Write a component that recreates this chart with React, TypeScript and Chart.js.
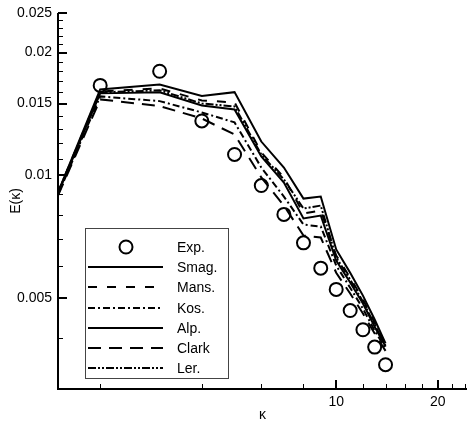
import React, { useEffect, useRef } from 'react';
import { Chart, registerables } from 'chart.js';

Chart.register(...registerables);

// ---- data ----
const KAPPA_EXP = [2, 3, 4, 5, 6, 7, 8, 9, 10, 11, 12, 13, 14];
const EXP = [0.01662, 0.0180, 0.0136, 0.01126, 0.00945, 0.00803, 0.00684, 0.00593, 0.00526, 0.00467, 0.00419, 0.0038, 0.00344];

const KAPPA_LES = [1.5, 2, 3, 4, 5, 6, 7, 8, 9, 10, 11, 12, 13, 14];
const SMAG = [0.00909, 0.01625, 0.01671, 0.01565, 0.016, 0.01211, 0.01046, 0.00878, 0.00888, 0.00659, 0.00578, 0.00508, 0.00444, 0.00388];
const MANS = [0.00909, 0.01607, 0.01634, 0.01527, 0.0151, 0.01139, 0.00989, 0.00807, 0.00821, 0.00637, 0.00562, 0.00497, 0.00436, 0.00385];
const KOS = [0.00898, 0.01562, 0.01521, 0.01427, 0.01349, 0.01046, 0.00888, 0.00758, 0.0075, 0.00602, 0.00531, 0.00472, 0.00417, 0.00377];
const ALP = [0.00904, 0.01589, 0.01598, 0.01484, 0.01451, 0.01113, 0.00961, 0.00785, 0.00798, 0.00619, 0.00547, 0.00486, 0.00426, 0.00381];
const CLARK = [0.00893, 0.01536, 0.01479, 0.01379, 0.0126, 0.00989, 0.00844, 0.00713, 0.00705, 0.00578, 0.00514, 0.00459, 0.0041, 0.00372];
const LER = [0.00909, 0.01598, 0.01616, 0.01501, 0.01476, 0.01126, 0.00978, 0.0083, 0.00844, 0.0063, 0.00556, 0.00491, 0.00431, 0.00383];

const X_MIN = 1.5;
const X_MAX = 24.4;
const Y_MIN = 0.003;
const Y_MAX = 0.025;
const X_TICKS = [2, 4, 6, 8, 10, 12, 14, 16, 18, 20, 22, 24];
const X_LABELS = [10, 20];
const Y_TICKS = [0.004, 0.005, 0.006, 0.007, 0.008, 0.009, 0.01, 0.011, 0.012, 0.013, 0.014, 0.015, 0.016, 0.017, 0.018, 0.019, 0.02, 0.021, 0.022, 0.023, 0.024, 0.025];
const Y_LABELS = [0.005, 0.01, 0.015, 0.02, 0.025];

const FONT = "'Liberation Sans', Arial, Helvetica, sans-serif";

const near = (list: number[], v: number) => list.some((l) => Math.abs(l - v) < 1e-9);
const pts = (xs: number[], ys: number[]) => xs.map((x, i) => ({ x, y: ys[i] }));

const innerTicks = {
  id: 'innerTicks',
  afterDraw(chart: any) {
    const { ctx, chartArea, scales } = chart;
    ctx.save();
    ctx.strokeStyle = '#000';
    ctx.lineWidth = 2;
    ctx.beginPath();
    ctx.moveTo(chartArea.left, chartArea.top);
    ctx.lineTo(chartArea.left, chartArea.bottom);
    ctx.lineTo(chartArea.right, chartArea.bottom);
    ctx.stroke();
    const xs = scales.x;
    for (const t of xs.ticks) {
      const major = near(X_LABELS, t.value);
      const px = Math.round(xs.getPixelForValue(t.value));
      ctx.lineWidth = major ? 2 : 1;
      ctx.beginPath();
      ctx.moveTo(px + (major ? 0 : 0.5), chartArea.bottom);
      ctx.lineTo(px + (major ? 0 : 0.5), chartArea.bottom - (major ? 9 : 5));
      ctx.stroke();
    }
    const ys = scales.y;
    for (const t of ys.ticks) {
      const major = near(Y_LABELS, t.value);
      const py = Math.round(ys.getPixelForValue(t.value));
      ctx.lineWidth = major ? 2 : 1;
      ctx.beginPath();
      ctx.moveTo(chartArea.left, py + (major ? 0 : 0.5));
      ctx.lineTo(chartArea.left + (major ? 9 : 5), py + (major ? 0 : 0.5));
      ctx.stroke();
    }
    ctx.restore();
  },
};

const legendBox = {
  id: 'legendBox',
  afterDraw(chart: any) {
    const { ctx } = chart;
    const x0 = 85, y0 = 228, w = 143, h = 150;
    ctx.save();
    ctx.fillStyle = '#fff';
    ctx.fillRect(x0, y0, w, h);
    ctx.strokeStyle = '#444';
    ctx.lineWidth = 1;
    ctx.strokeRect(x0 + 0.5, y0 + 0.5, w, h);
    ctx.font = `14px ${FONT}`;
    ctx.textBaseline = 'middle';
    ctx.textAlign = 'left';
    chart.data.datasets.forEach((ds: any, i: number) => {
      const cy = Math.round(y0 + 18.7 + i * 20.27);
      ctx.strokeStyle = '#000';
      if (ds.showLine === false) {
        ctx.setLineDash([]);
        ctx.lineWidth = 2;
        ctx.beginPath();
        ctx.arc(126, cy, 6.5, 0, Math.PI * 2);
        ctx.stroke();
      } else {
        ctx.setLineDash(ds.borderDash || []);
        ctx.lineWidth = ds.borderWidth;
        ctx.beginPath();
        ctx.moveTo(88, cy);
        ctx.lineTo(163, cy);
        ctx.stroke();
      }
      ctx.setLineDash([]);
      ctx.fillStyle = '#000';
      ctx.fillText(ds.label, 177, cy + 1);
    });
    ctx.restore();
  },
};

const lineDs = (label: string, ys: number[], dash: number[]) => ({
  label,
  data: pts(KAPPA_LES, ys),
  borderColor: '#000',
  backgroundColor: '#000',
  borderWidth: 2,
  borderDash: dash,
  pointRadius: 0,
  fill: false,
  tension: 0,
});

export default function App() {
  const ref = useRef<HTMLCanvasElement | null>(null);
  useEffect(() => {
    if (!ref.current) return;
    const chart = new Chart(ref.current, {
      type: 'line',
      data: {
        datasets: [
          {
            label: 'Exp.',
            data: pts(KAPPA_EXP, EXP),
            showLine: false,
            pointRadius: 6.5,
            pointBorderWidth: 2,
            pointBorderColor: '#000',
            pointBackgroundColor: 'rgba(0,0,0,0)',
            borderColor: '#000',
          } as any,
          lineDs('Smag.', SMAG, []),
          lineDs('Mans.', MANS, [9, 10]),
          lineDs('Kos.', KOS, [7, 3, 2, 3]),
          lineDs('Alp.', ALP, []),
          lineDs('Clark', CLARK, [13, 8]),
          lineDs('Ler.', LER, [8, 2, 2, 2, 2, 2]),
        ],
      },
      options: {
        responsive: false,
        animation: false,
        devicePixelRatio: 1,
        layout: { autoPadding: false, padding: { top: 13, left: 0, right: 0, bottom: 0 } },
        plugins: { legend: { display: false }, tooltip: { enabled: false } },
        scales: {
          x: {
            type: 'logarithmic',
            bounds: 'data',
            min: X_MIN,
            max: X_MAX,
            afterBuildTicks: (s: any) => {
              s.ticks = X_TICKS.map((v) => ({ value: v, major: near(X_LABELS, v) }));
              s.min = X_MIN;
              s.max = X_MAX;
            },
            afterFit: (s: any) => {
              s.height = 38;
              s.paddingLeft = 0;
              s.paddingRight = 0;
            },
            grid: { display: false, drawTicks: false },
            border: { display: false },
            ticks: {
              autoSkip: false,
              maxRotation: 0,
              padding: 5,
              color: '#000',
              font: { family: FONT, size: 14 },
              callback: (v: any) => (near(X_LABELS, Number(v)) ? String(v) : ''),
            },
            title: {
              display: true,
              text: 'κ',
              color: '#000',
              font: { family: FONT, size: 14 },
              padding: { top: 0, bottom: 3 },
            },
          },
          y: {
            type: 'logarithmic',
            bounds: 'data',
            min: Y_MIN,
            max: Y_MAX,
            afterBuildTicks: (s: any) => {
              s.ticks = Y_TICKS.map((v) => ({ value: v, major: near(Y_LABELS, v) }));
              s.min = Y_MIN;
              s.max = Y_MAX;
            },
            afterFit: (s: any) => {
              s.width = 58;
              s.paddingTop = 0;
              s.paddingBottom = 0;
            },
            grid: { display: false, drawTicks: false },
            border: { display: false },
            ticks: {
              autoSkip: false,
              padding: 6,
              color: '#000',
              font: { family: FONT, size: 14 },
              callback: (v: any) => (near(Y_LABELS, Number(v)) ? String(Number(v)) : ''),
            },
            title: {
              display: true,
              text: 'E(κ)',
              color: '#000',
              font: { family: FONT, size: 14 },
              padding: { top: 8, bottom: 0 },
            },
          },
        },
      } as any,
      plugins: [innerTicks, legendBox],
    });
    return () => chart.destroy();
  }, []);
  return (
    <div style={{ position: 'absolute', left: 0, top: 0, width: 467, height: 427, background: '#fff' }}>
      <canvas ref={ref} width={467} height={427} style={{ width: 467, height: 427, display: 'block' }} />
    </div>
  );
}
